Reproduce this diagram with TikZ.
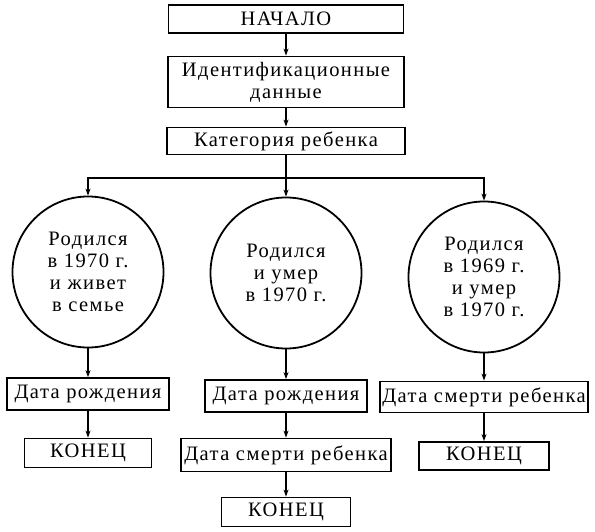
\documentclass[tikz,border=0pt]{standalone}
\usepackage{fontspec}
\setmainfont{Liberation Serif}[LetterSpace=7]
\usetikzlibrary{arrows.meta,positioning}

\begin{document}
\begin{tikzpicture}[x=1pt,y=-1pt,
  font=\fontsize{20.5}{22}\selectfont,
  blk/.style={draw,line width=1.8pt,inner sep=0pt,align=center},
  circ/.style={draw,circle,line width=1.8pt,minimum size=151pt,inner sep=0pt,align=center},
  arr/.style={line width=1.6pt,-{Stealth[length=7pt,width=5pt]}}]
  \useasboundingbox (0,0) rectangle (595,532);

  % head of the chart
  \node[blk,minimum width=235pt,minimum height=28pt] (start) at (286,19) {НАЧАЛО};
  \node[blk,minimum width=236pt,minimum height=51pt] (ident) at (286,82) {Идентификационные\\данные};
  \node[blk,minimum width=238pt,minimum height=27pt] (cat) at (286,141) {Категория ребенка};
  \draw[arr] (start) -- (ident);
  \draw[arr] (ident) -- (cat);

  % three categories
  \node[circ] (lives) at (88,272) {Родился\\в 1970 г.\\и живет\\в семье};
  \node[circ] (died) at (286,273) {Родился\\и умер\\в 1970 г.};
  \node[circ] (prev) at (484,277) {Родился\\в 1969 г.\\и умер\\в 1970 г.};
  \coordinate (split) at (286,178);
  \draw[line width=1.6pt] (cat) -- (split);
  \draw[arr] (split) -- (died);
  \draw[arr] (split) -| (lives);
  \draw[arr] (split) -| (prev);

  % left column
  \node[blk,minimum width=162pt,minimum height=32pt] (dob1) at (88,394) {Дата рождения};
  \node[blk,minimum width=127pt,minimum height=29pt] (end1) at (88,453) {КОНЕЦ};
  \draw[arr] (lives) -- (dob1);
  \draw[arr] (dob1) -- (end1);

  % middle column
  \node[blk,minimum width=162pt,minimum height=32pt] (dob2) at (286,396) {Дата рождения};
  \node[blk,minimum width=210pt,minimum height=33pt] (dod2) at (286,455) {Дата смерти ребенка};
  \node[blk,minimum width=129pt,minimum height=29pt] (end2) at (286,512) {КОНЕЦ};
  \draw[arr] (died) -- (dob2);
  \draw[arr] (dob2) -- (dod2);
  \draw[arr] (dod2) -- (end2);

  % right column
  \node[blk,minimum width=208pt,minimum height=31pt] (dod3) at (484,397) {Дата смерти ребенка};
  \node[blk,minimum width=130pt,minimum height=28pt] (end3) at (484,456) {КОНЕЦ};
  \draw[arr] (prev) -- (dod3);
  \draw[arr] (dod3) -- (end3);
\end{tikzpicture}
\end{document}
